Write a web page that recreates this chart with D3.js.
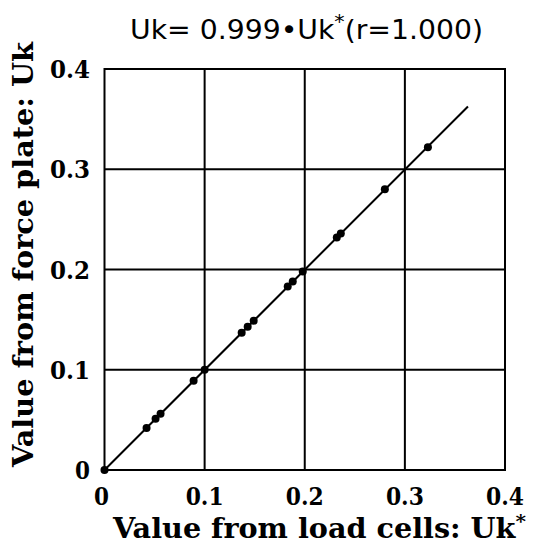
<!DOCTYPE html>
<html>
<head>
<meta charset="utf-8">
<script src="https://cdn.jsdelivr.net/npm/d3@7"></script>
<style>
  html, body { margin: 0; padding: 0; background: #fff; }
  svg { display: block; }
</style>
</head>
<body>
<svg id="chart" width="533" height="547"></svg>
<script>
// load cell value (Uk*) vs force plate value (Uk)
const loadCells = [0, 0.042, 0.051, 0.056, 0.089, 0.100, 0.137, 0.143, 0.149, 0.183, 0.188, 0.198, 0.232, 0.236, 0.280, 0.323];
const forcePlate = [0, 0.042, 0.051, 0.056, 0.089, 0.100, 0.137, 0.143, 0.149, 0.183, 0.188, 0.198, 0.232, 0.236, 0.280, 0.322];
const ticks = [0, 0.1, 0.2, 0.3, 0.4];
const tickLabels = ['0', '0.1', '0.2', '0.3', '0.4'];
const slope = 0.999;
const fitRange = [0, 0.363];

const svg = d3.select('#chart');

const x = d3.scaleLinear().domain([0, 0.4]).range([104.5, 505]);
const y = d3.scaleLinear().domain([0, 0.4]).range([470, 69]);

const serif = '"DejaVu Serif", serif';

// grid
const grid = svg.append('g')
  .attr('stroke', '#000')
  .attr('stroke-width', 2);

grid.selectAll('line.v')
  .data(ticks.slice(1, -1))
  .join('line')
  .attr('class', 'v')
  .attr('x1', d => x(d)).attr('x2', d => x(d))
  .attr('y1', y(0)).attr('y2', y(0.4));

grid.selectAll('line.h')
  .data(ticks.slice(1, -1))
  .join('line')
  .attr('class', 'h')
  .attr('y1', d => y(d)).attr('y2', d => y(d))
  .attr('x1', x(0)).attr('x2', x(0.4));

svg.append('rect')
  .attr('x', x(0)).attr('y', y(0.4))
  .attr('width', x(0.4) - x(0))
  .attr('height', y(0) - y(0.4))
  .attr('fill', 'none')
  .attr('stroke', '#000')
  .attr('stroke-width', 2);

// regression line
const line = d3.line()
  .x(d => x(d))
  .y(d => y(slope * d));

svg.append('path')
  .datum(fitRange)
  .attr('d', line)
  .attr('fill', 'none')
  .attr('stroke', '#000')
  .attr('stroke-width', 2);

// points
svg.append('g')
  .selectAll('circle')
  .data(loadCells)
  .join('circle')
  .attr('cx', d => x(d))
  .attr('cy', (d, i) => y(forcePlate[i]))
  .attr('r', 4)
  .attr('fill', '#000');

// tick labels
svg.append('g')
  .selectAll('text')
  .data(ticks)
  .join('text')
  .attr('x', d => x(d) - (d === 0 ? 3 : 0))
  .attr('y', 505)
  .attr('text-anchor', 'middle')
  .attr('font-family', serif)
  .attr('font-weight', 'bold')
  .attr('font-size', 25)
  .attr('textLength', (d, i) => tickLabels[i].length === 1 ? 15 : 38)
  .attr('lengthAdjust', 'spacingAndGlyphs')
  .text((d, i) => tickLabels[i]);

svg.append('g')
  .selectAll('text')
  .data(ticks)
  .join('text')
  .attr('x', 90)
  .attr('y', d => y(d) + 9)
  .attr('text-anchor', 'end')
  .attr('font-family', serif)
  .attr('font-weight', 'bold')
  .attr('font-size', 25)
  .attr('textLength', (d, i) => tickLabels[i].length === 1 ? 15 : 40)
  .attr('lengthAdjust', 'spacingAndGlyphs')
  .text((d, i) => tickLabels[i]);

// title
const title = svg.append('text')
  .attr('x', 130)
  .attr('y', 39)
  .attr('font-family', '"DejaVu Sans", sans-serif')
  .attr('font-size', 26)
  .attr('textLength', 353)
  .attr('lengthAdjust', 'spacingAndGlyphs');
title.append('tspan').text('Uk= 0.999\u2022Uk');
title.append('tspan').attr('dy', -11).attr('font-size', 19).text('*');
title.append('tspan').attr('dy', 11).text('(r=1.000)');

// x axis title
const xTitle = svg.append('text')
  .attr('x', 113)
  .attr('y', 538)
  .attr('font-family', serif)
  .attr('font-weight', 'bold')
  .attr('font-size', 27)
  .attr('textLength', 413)
  .attr('lengthAdjust', 'spacingAndGlyphs');
xTitle.append('tspan').text('Value from load cells: Uk');
xTitle.append('tspan').attr('dy', -10).attr('font-size', 19).text('*');

// y axis title
svg.append('text')
  .attr('transform', 'translate(33,467) rotate(-90)')
  .attr('font-family', serif)
  .attr('font-weight', 'bold')
  .attr('font-size', 28)
  .attr('textLength', 425)
  .attr('lengthAdjust', 'spacingAndGlyphs')
  .text('Value from force plate: Uk');
</script>
</body>
</html>
